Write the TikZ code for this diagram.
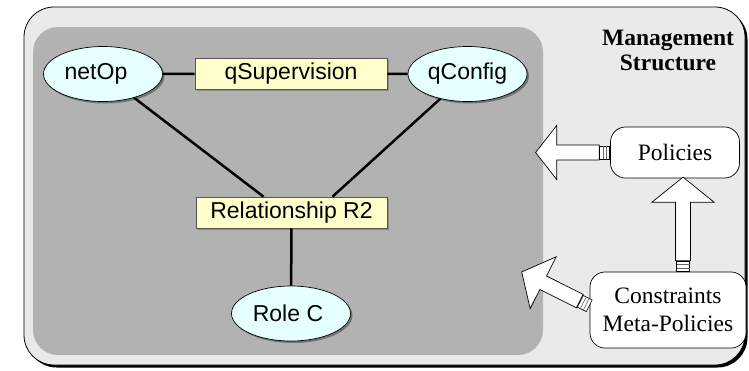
\documentclass[tikz,border=0pt]{standalone}
\usepackage{fontspec}
\setmainfont{Liberation Serif}
\setsansfont{Liberation Sans}
\usetikzlibrary{shapes.geometric,shadows,calc}

\definecolor{framefill}{HTML}{EAEAEA}
\definecolor{panelfill}{HTML}{B2B2B2}
\definecolor{rolefill}{HTML}{E6FFFF}
\definecolor{relfill}{HTML}{FFFFCC}
\definecolor{reledge}{HTML}{555555}

% block arrow along the local x axis: #1 start, #2 direction, #3 length,
% #4 head length, #5 head half-width
\newcommand\blockarrow[5]{%
  \begin{scope}[shift={(#1)}, rotate=#2]
    \draw[fill=white, line width=0.7pt, line join=miter]
      (11,-7.5) -- (#3-#4,-7.5) -- (#3-#4,-#5) -- (#3,0) -- (#3-#4,#5)
      -- (#3-#4,7.5) -- (11,7.5) -- cycle;
    \draw[fill=white, line width=0.6pt] (0.5,-6.5) rectangle (10.5,6.5);
    \draw[black!60, line width=0.6pt] (3.8,-6.5) -- (3.8,6.5) (7.2,-6.5) -- (7.2,6.5);
  \end{scope}}

\begin{document}
\begin{tikzpicture}[x=1pt, y=-1pt,
  role/.style={ellipse, draw=black, line width=0.7pt, fill=rolefill,
    minimum width=119pt, minimum height=55pt, inner sep=0pt,
    font=\sffamily\fontsize{23}{26}\selectfont,
    drop shadow={shadow xshift=2pt, shadow yshift=-2pt, fill=black!55, opacity=1}},
  relbox/.style={rectangle, draw=reledge, line width=0.7pt, fill=relfill,
    minimum width=192pt, minimum height=31pt, inner sep=0pt,
    font=\sffamily\fontsize{23}{26}\selectfont,
    drop shadow={shadow xshift=1.5pt, shadow yshift=-1.5pt, fill=black!45, opacity=1}},
  mgmtbox/.style={rectangle, rounded corners=15pt, draw=black, line width=0.7pt,
    fill=white, inner sep=0pt, align=center,
    font=\rmfamily\fontsize{23.5}{28}\selectfont},
  link/.style={line width=2.5pt, black}]

\useasboundingbox (0,0) rectangle (749,370);

% outer frame with its shadow, and the inner panel
\fill[black, rounded corners=30pt] (26.5,9.5) rectangle (747.5,367.5);
\draw[fill=framefill, line width=0.8pt, rounded corners=30pt] (24,7) rectangle (745,365);
\fill[panelfill, rounded corners=25pt] (33,27) rectangle (543,355);

% roles and relationships
\node[role] (netop) at (103,74) {\hspace*{-14pt}netOp};
\node[relbox] (qsup) at (291,73.5) {qSupervision};
\node[role] (qconf) at (467.5,74) {qConfig};
\node[relbox, minimum width=191pt] (rel) at (291.5,212.5) {Relationship R2};
\node[role] (rolec) at (291,313.5) {\hspace*{-6pt}Role C};

\coordinate (relL) at ($(rel.north)+(-28,0)$);
\coordinate (relR) at ($(rel.north)+(41,0)$);

\draw[link] (netop) -- (qsup);
\draw[link] (qsup) -- (qconf);
\draw[link] (netop) -- (relL);
\draw[link] (qconf) -- (relR);
\draw[link] (rel) -- (rolec);

% management side
\node[font=\rmfamily\bfseries\fontsize{23.5}{25}\selectfont, align=center]
  (title) at (668,50.5) {Management\\Structure};
\node[mgmtbox, minimum width=129pt, minimum height=51pt] (pol) at (675,152.5) {Policies};
\node[mgmtbox, minimum width=156pt, minimum height=76pt] (con) at (668,310) {Constraints\\Meta-Policies};

\coordinate (conTop) at ($(con.north)+(15,0)$);
\coordinate (conLeft) at ($(con.west)+(0,-4)$);

\blockarrow{pol.west}{180}{74.5}{21}{27}
\blockarrow{conTop}{90}{94.5}{25}{31}
\blockarrow{conLeft}{153.4}{76}{24}{29}

\end{tikzpicture}
\end{document}
